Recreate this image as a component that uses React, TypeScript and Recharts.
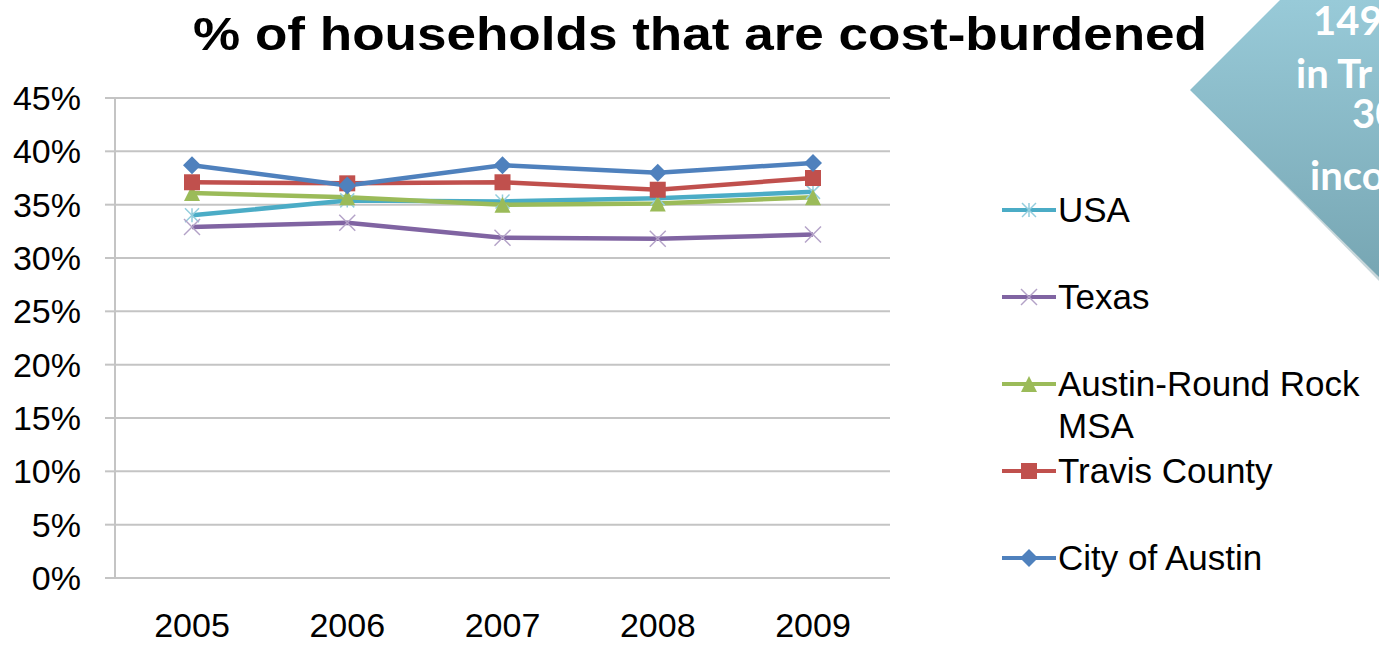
import React from "react"
import { CartesianGrid, Legend, Line, LineChart, XAxis, YAxis } from "recharts"

const years = ["2005", "2006", "2007", "2008", "2009"]
const usa = [34.0, 35.4, 35.3, 35.6, 36.2]
const texas = [32.9, 33.3, 31.9, 31.8, 32.2]
const msa = [36.1, 35.7, 35.0, 35.1, 35.7]
const travis = [37.1, 37.0, 37.1, 36.4, 37.5]
const city = [38.7, 36.8, 38.7, 38.0, 38.9]
const yTicks = [0, 5, 10, 15, 20, 25, 30, 35, 40, 45]

const data = years.map((year, i) => ({
  year,
  usa: usa[i],
  texas: texas[i],
  msa: msa[i],
  travis: travis[i],
  city: city[i],
}))

const series = [
  { key: "usa", name: "USA", color: "#4BACC6", marker: "star" },
  { key: "texas", name: "Texas", color: "#8064A2", marker: "x" },
  { key: "msa", name: "Austin-Round Rock MSA", color: "#9BBB59", marker: "triangle" },
  { key: "travis", name: "Travis County", color: "#C0504D", marker: "square" },
  { key: "city", name: "City of Austin", color: "#4F81BD", marker: "diamond" },
]

const FONT = "'Liberation Sans', Arial, sans-serif"

function Marker({ cx, cy, type, color }: { cx: number; cy: number; type: string; color: string }) {
  if (type === "diamond") {
    const r = 9
    return <polygon points={`${cx},${cy - r} ${cx + r},${cy} ${cx},${cy + r} ${cx - r},${cy}`} fill={color} />
  }
  if (type === "square") {
    const r = 8
    return <rect x={cx - r} y={cy - r} width={r * 2} height={r * 2} fill={color} />
  }
  if (type === "triangle") {
    const r = 8
    return <polygon points={`${cx},${cy - r} ${cx + r},${cy + r} ${cx - r},${cy + r}`} fill={color} />
  }
  if (type === "x") {
    const r = 8
    return (
      <g stroke="#B3A2C7" strokeWidth={1.5}>
        <line x1={cx - r} y1={cy - r} x2={cx + r} y2={cy + r} />
        <line x1={cx - r} y1={cy + r} x2={cx + r} y2={cy - r} />
      </g>
    )
  }
  const r = 7
  return (
    <g stroke="#93CDDD" strokeWidth={1.5}>
      <line x1={cx - r} y1={cy - r} x2={cx + r} y2={cy + r} />
      <line x1={cx - r} y1={cy + r} x2={cx + r} y2={cy - r} />
      <line x1={cx} y1={cy - r} x2={cx} y2={cy + r} />
    </g>
  )
}

function LegendContent() {
  return (
    <div style={{ fontFamily: FONT, fontSize: 35, color: "#000" }}>
      {series.map((s) => (
        <div key={s.key} style={{ display: "flex", alignItems: "flex-start", height: 87 }}>
          <svg width={58} height={42} style={{ flex: "none" }}>
            <line x1={2} y1={21} x2={56} y2={21} stroke={s.color} strokeWidth={4} />
            <Marker cx={29} cy={21} type={s.marker} color={s.color} />
          </svg>
          <div style={{ lineHeight: "42px", width: 330 }}>{s.name}</div>
        </div>
      ))}
    </div>
  )
}

export default function App() {
  return (
    <div
      style={{
        position: "absolute",
        left: 0,
        top: 0,
        width: 1379,
        height: 646,
        overflow: "hidden",
        background: "#fff",
      }}
    >
      <LineChart width={1379} height={646} data={data} margin={{ top: 98, right: 489, bottom: 0, left: 0 }}>
        <CartesianGrid vertical={false} stroke="#C4C4C4" strokeWidth={2} />
        <XAxis
          dataKey="year"
          height={68}
          padding={{ left: 77, right: 77 }}
          tickLine={false}
          tickSize={0}
          tickMargin={35}
          axisLine={{ stroke: "#C4C4C4", strokeWidth: 2 }}
          tick={{ fill: "#000", fontSize: 34, fontFamily: FONT }}
        />
        <YAxis
          width={115}
          domain={[0, 45]}
          ticks={yTicks}
          tickFormatter={(v) => `${v}%`}
          tickSize={10}
          tickMargin={24}
          tickLine={{ stroke: "#C4C4C4", strokeWidth: 2 }}
          axisLine={{ stroke: "#C4C4C4", strokeWidth: 2 }}
          tick={{ fill: "#000", fontSize: 34, fontFamily: FONT }}
        />
        <Legend
          layout="vertical"
          align="center"
          verticalAlign="middle"
          wrapperStyle={{ position: "absolute", left: 1000, top: 189, width: 379 }}
          content={() => <LegendContent />}
        />
        {series.map((s) => (
          <Line
            key={s.key}
            dataKey={s.key}
            name={s.name}
            stroke={s.color}
            strokeWidth={4.5}
            isAnimationActive={false}
            dot={(p: any) => <Marker key={`${s.key}-${p.index}`} cx={p.cx} cy={p.cy} type={s.marker} color={s.color} />}
            activeDot={false}
          />
        ))}
      </LineChart>
      <svg
        width={1379}
        height={646}
        style={{ position: "absolute", left: 0, top: 0, pointerEvents: "none" }}
      >
        <defs>
          <linearGradient id="callout" x1="0" y1="0" x2="0" y2="1">
            <stop offset="0%" stopColor="#98CAD8" />
            <stop offset="100%" stopColor="#77A6B3" />
          </linearGradient>
        </defs>
        <text
          x={700}
          y={50}
          textAnchor="middle"
          textLength={1014}
          lengthAdjust="spacingAndGlyphs"
          fontFamily={FONT}
          fontWeight="bold"
          fontSize={46}
          fill="#000"
        >
          % of households that are cost-burdened
        </text>
        <polygon points="1193,92 1285,0 1382,0 1382,284" fill="#5f8a96" opacity={0.35} />
        <polygon points="1190,90 1280,0 1379,0 1379,277" fill="url(#callout)" />
        <g fontFamily="Lato, 'Open Sans', sans-serif" fontWeight="bold" fontSize={40} fill="#fff">
          <text x={1313} y={35}>149</text>
          <text x={1296} y={88}>in Tr</text>
          <text x={1352} y={128}>30</text>
          <text x={1310} y={190}>inco</text>
        </g>
      </svg>
    </div>
  )
}
